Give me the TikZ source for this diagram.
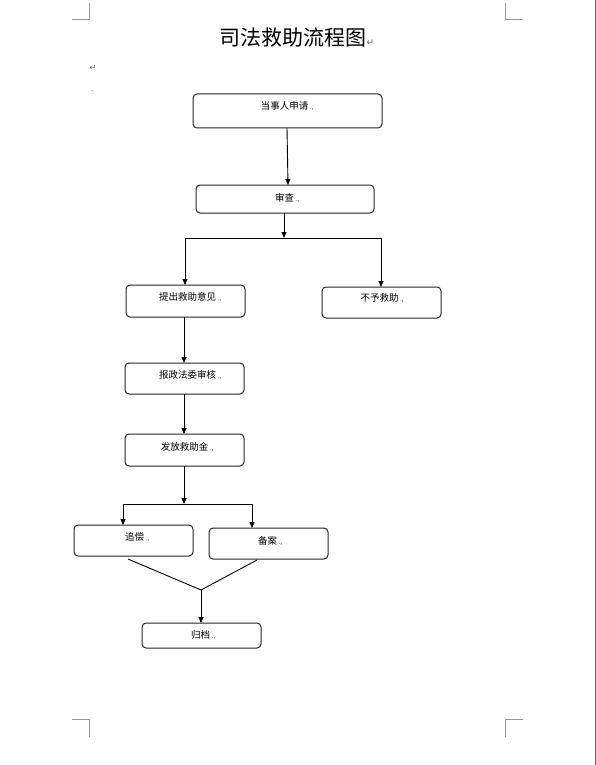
\documentclass[tikz,border=0pt]{standalone}
\usepackage{fontspec}
\setmainfont{Liberation Sans}
\newfontfamily\cjk{Noto Sans CJK SC}
\newfontfamily\dvs{DejaVu Sans}
\usetikzlibrary{arrows.meta}
\newcommand{\pmk}{\,{\fontsize{6}{6}\selectfont .,}}
\begin{document}
\begin{tikzpicture}[x=1pt,y=-1pt,
  box/.style={draw=black!85,line width=1pt,rounded corners=4pt,inner sep=0pt,anchor=north west},
  lbl/.style={font=\cjk\fontsize{9.5}{10}\selectfont,inner sep=0pt},
  arr/.style={draw=black,line width=0.9pt,-{Triangle[length=6pt,width=5pt]}},
  ln/.style={draw=black,line width=0.9pt},
  crop/.style={draw=black!40,line width=1pt},
  mk/.style={font=\fontsize{6}{6}\selectfont,text=black!70}]
\useasboundingbox[fill=white] (0,0) rectangle (596,765);
\draw[draw=black!60,line width=1pt] (595.5,0) -- (595.5,765);
% crop marks
\draw[crop] (89,3) -- (89,20) -- (72,20);
\draw[crop] (505,3) -- (505,20) -- (523,20);
\draw[crop] (72,719) -- (89,719) -- (89,737);
\draw[crop] (505,737) -- (505,719) -- (523,719);
% title
\node[font=\cjk\fontsize{21}{22}\selectfont,inner sep=0pt] (title) at (297,38) {司法救助流程图{\dvs\fontsize{9}{9}\selectfont\color{black!60}↵}};
\node[font=\dvs\fontsize{8}{8}\selectfont,text=black!60,inner sep=0pt] (ret) at (93,68) {↵};
\node[mk,inner sep=0pt] (dot) at (92,92) {.,};
% boxes
\draw[box] (193,94) rectangle (382,128);
\node[lbl] (t1) at (287,106) {当事人申请\pmk};
\draw[box] (196,185) rectangle (374,213);
\node[lbl] (t2) at (287,198) {审查\pmk};
\draw[box] (126,285) rectangle (245,317);
\node[lbl] (t3) at (190,297) {提出救助意见\pmk};
\draw[box] (322,287) rectangle (441,318);
\node[lbl] (t4) at (382,298) {不予救助\pmk};
\draw[box] (125,363) rectangle (244,394);
\node[lbl] (t5) at (190,375) {报政法委审核\pmk};
\draw[box] (125,434) rectangle (244,466);
\node[lbl] (t6) at (187,447) {发放救助金\pmk};
\draw[box] (74,525) rectangle (193,556);
\node[lbl] (t7) at (137,537) {追偿\pmk};
\draw[box] (209,528) rectangle (328,559);
\node[lbl] (t8) at (270,541) {备案\pmk};
\draw[box] (142,623) rectangle (261,648);
\node[lbl] (t9) at (203,635) {归档\pmk};
% connectors
\coordinate (a1) at (287,128); \coordinate (a2) at (288,185);
\draw[arr] (a1) -- (a2);
\coordinate (s1) at (284,213); \coordinate (j1) at (284,238);
\draw[arr] (s1) -- (j1);
\coordinate (jl) at (185,238); \coordinate (jr) at (381,238);
\draw[ln] (jl) -- (jr);
\coordinate (e3) at (185,285); \coordinate (e4) at (381,287);
\draw[arr] (jl) -- (e3);
\draw[arr] (jr) -- (e4);
\coordinate (s3) at (184,317); \coordinate (e5) at (184,363);
\draw[arr] (s3) -- (e5);
\coordinate (s5) at (184,394); \coordinate (e6) at (184,434);
\draw[arr] (s5) -- (e6);
\coordinate (s6) at (184,466); \coordinate (j2) at (184,504);
\draw[arr] (s6) -- (j2);
\coordinate (kl) at (123,504); \coordinate (kr) at (252,504);
\draw[ln] (kl) -- (kr);
\coordinate (e7) at (123,525); \coordinate (e8) at (252,528);
\draw[arr] (kl) -- (e7);
\draw[arr] (kr) -- (e8);
\coordinate (s7) at (128,559); \coordinate (s8) at (257,560); \coordinate (m) at (201,590);
\draw[ln] (s7) -- (m) -- (s8);
\coordinate (e9) at (201,623);
\draw[arr] (m) -- (e9);
\end{tikzpicture}
\end{document}
